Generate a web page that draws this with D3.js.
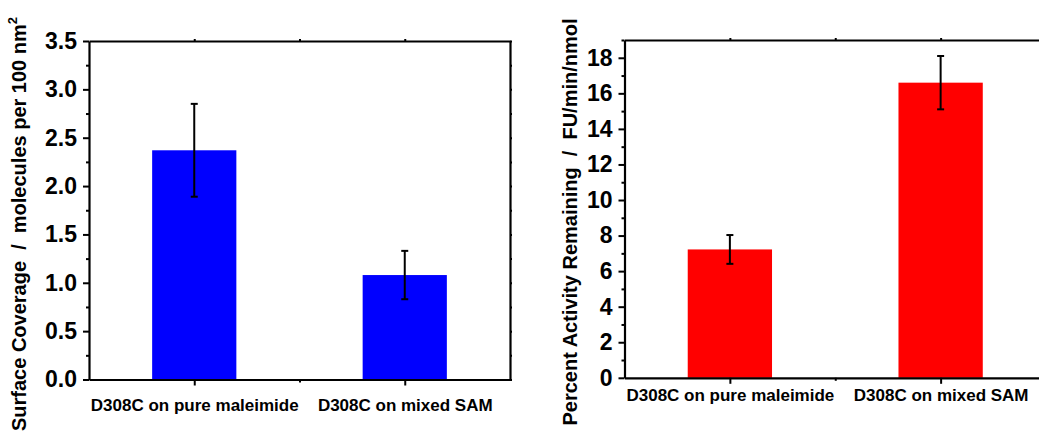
<!DOCTYPE html>
<html>
<head>
<meta charset="utf-8">
<script src="https://cdn.jsdelivr.net/npm/d3@7"></script>
<style>
  body { margin: 0; background: #fff; }
  text { font-family: Arial, "Liberation Sans", sans-serif; font-weight: bold; fill: #000; }
  .title { white-space: pre; }
</style>
</head>
<body>
<div id="chart"></div>
<script>
// Data
var categories = ["D308C on pure maleimide", "D308C on mixed SAM"];
var coverage = [2.37, 1.08];
var coverageErr = [0.48, 0.25];
var activity = [7.22, 16.6];
var activityErr = [0.81, 1.5];
var coverageMajor = [0, 0.5, 1, 1.5, 2, 2.5, 3, 3.5];
var activityMajor = [0, 2, 4, 6, 8, 10, 12, 14, 16, 18];

var svg = d3.select("#chart")
    .append("svg")
        .attr("width", 1039)
        .attr("height", 434);

function drawPanel(p) {
    var x = d3.scaleLinear().domain([0.5, 2.5]).range([p.left, p.right]);
    var y = d3.scaleLinear().domain([0, p.ymax]).range([p.bottom, p.top]);
    var g = svg.append("g");

    // bars
    g.selectAll("rect.bar")
        .data(p.values)
        .enter()
        .append("rect")
        .attr("class", "bar")
        .attr("x", function(d, i) { return x(i + 1 - 0.2); })
        .attr("width", function(d, i) { return x(i + 1 + 0.2) - x(i + 1 - 0.2); })
        .attr("y", function(d) { return y(d); })
        .attr("height", function(d) { return y(0) - y(d); })
        .attr("fill", p.color);

    // error bars
    var eb = g.selectAll("g.err")
        .data(p.values)
        .enter()
        .append("g")
        .attr("class", "err")
        .attr("stroke", "#000")
        .attr("stroke-width", 2);
    eb.append("line")
        .attr("x1", function(d, i) { return x(i + 1); })
        .attr("x2", function(d, i) { return x(i + 1); })
        .attr("y1", function(d, i) { return y(d + p.errs[i]); })
        .attr("y2", function(d, i) { return y(d - p.errs[i]); });
    [1, -1].forEach(function(s) {
        eb.append("line")
            .attr("x1", function(d, i) { return x(i + 1) - 3.5; })
            .attr("x2", function(d, i) { return x(i + 1) + 3.5; })
            .attr("y1", function(d, i) { return y(d + s * p.errs[i]); })
            .attr("y2", function(d, i) { return y(d + s * p.errs[i]); });
    });

    var minorY = d3.range(0, p.ymax + 1e-9, p.step / 2).filter(function(v) {
        return p.major.indexOf(v) < 0;
    });

    // left axis
    g.append("g")
        .attr("transform", "translate(" + p.left + ",0)")
        .call(d3.axisLeft(y).tickValues(minorY).tickSize(3).tickFormat(""))
        .call(function(a) { a.select(".domain").remove(); });
    g.append("g")
        .attr("class", "yax")
        .attr("transform", "translate(" + p.left + ",0)")
        .call(d3.axisLeft(y).tickValues(p.major).tickSize(6).tickSizeOuter(0)
            .tickPadding(6).tickFormat(p.fmt));

    // right axis (ticks only)
    g.append("g")
        .attr("transform", "translate(" + p.right + ",0)")
        .call(d3.axisRight(y).tickValues(p.major.concat(minorY)).tickSize(2)
            .tickSizeOuter(0).tickFormat(""));

    // bottom axis
    g.append("g")
        .attr("transform", "translate(0," + p.bottom + ")")
        .call(d3.axisBottom(x).tickValues([1.5]).tickSize(3).tickFormat(""))
        .call(function(a) { a.select(".domain").remove(); });
    g.append("g")
        .attr("class", "xax")
        .attr("transform", "translate(0," + p.bottom + ")")
        .call(d3.axisBottom(x).tickValues([1, 2]).tickSize(6).tickSizeOuter(0)
            .tickPadding(p.xpad).tickFormat(function(d) { return categories[d - 1]; }));

    // top axis
    g.append("g")
        .attr("transform", "translate(0," + p.top + ")")
        .call(d3.axisTop(x).tickValues([1, 1.5, 2]).tickSize(2).tickSizeOuter(0).tickFormat(""));

    g.selectAll(".domain").attr("stroke-width", 2.2);
    g.selectAll(".tick line").attr("stroke-width", 2);
    g.selectAll(".yax text").style("font-size", "23px");
    g.selectAll(".xax text").style("font-size", "17px");

    // axis title
    var t = svg.append("text")
        .attr("class", "title")
        .attr("transform", "translate(" + p.titleX + "," + p.titleY + ") rotate(-90)")
        .attr("text-anchor", "middle")
        .style("font-size", "20px")
        .text(p.title);
    if (p.sup) {
        t.append("tspan").attr("dy", -9).style("font-size", "13px").text(p.sup);
    }
}

drawPanel({
    left: 89, right: 510, top: 41, bottom: 379.5,
    ymax: 3.5, step: 0.5, major: coverageMajor, fmt: d3.format(".1f"),
    values: coverage, errs: coverageErr, color: "#0000ff", xpad: 13,
    title: "Surface Coverage  /  molecules per 100 nm", sup: "2",
    titleX: 26, titleY: 224
});

drawPanel({
    left: 624.5, right: 1046, top: 40, bottom: 377.8,
    ymax: 19, step: 2, major: activityMajor, fmt: d3.format("d"),
    values: activity, errs: activityErr, color: "#ff0000", xpad: 5,
    title: "Percent Activity Remaining  /  FU/min/nmol",
    titleX: 577, titleY: 222
});
</script>
</body>
</html>
